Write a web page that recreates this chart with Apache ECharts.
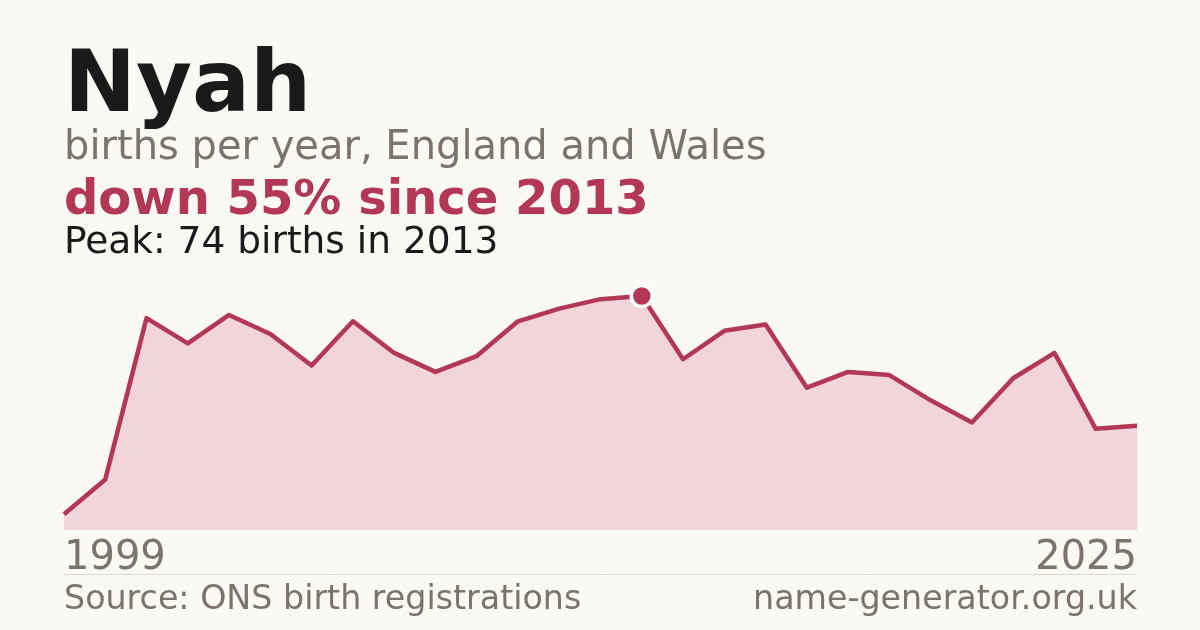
<!DOCTYPE html>
<html>
<head>
<meta charset="utf-8">
<script src="https://cdn.jsdelivr.net/npm/echarts@6/dist/echarts.min.js"></script>
<style>
  html, body { margin: 0; padding: 0; background: #faf9f4; }
  #chart { width: 1200px; height: 630px; }
</style>
</head>
<body>
<div id="chart"></div>
<script>
// births per year for "Nyah"
const years = ['1999','2000','2001','2002','2003','2004','2005','2006','2007','2008',
  '2009','2010','2011','2012','2013','2014','2015','2016','2017','2018',
  '2019','2020','2021','2022','2023','2024','2025'];
const births = [5, 16, 67, 59, 68, 62, 52, 66, 56, 50,
  55, 66, 70, 73, 74, 54, 63, 65, 45, 50,
  49, 41, 34, 48, 56, 32, 33];
const peakYear = '2013';
const peakValue = 74;

const RED = '#b23856';
const GREY = '#7a746c';
const FONT = '"DejaVu Sans", sans-serif';

const chart = echarts.init(document.getElementById('chart'), null, { renderer: 'canvas' });

const txt = (x, y, text, size, color, weight, align) => ({
  type: 'text', x: x, y: y,
  style: {
    text: text, fontSize: size, fontFamily: FONT, fontWeight: weight || 'normal',
    fill: color, align: align || 'left', verticalAlign: 'top', lineHeight: size
  }
});

chart.setOption({
  backgroundColor: '#faf9f4',
  animation: false,
  grid: { left: 64, right: 63, top: 296, bottom: 100 },
  xAxis: {
    type: 'category',
    data: years,
    boundaryGap: false,
    axisLine: { show: false },
    axisTick: { show: false },
    axisLabel: {
      interval: (i) => i === 0 || i === years.length - 1,
      alignMinLabel: 'left',
      alignMaxLabel: 'right',
      margin: 9,
      fontSize: 40,
      fontFamily: FONT,
      color: GREY
    }
  },
  yAxis: {
    type: 'value', min: 0, max: peakValue,
    show: false,
    splitLine: { show: false }
  },
  series: [{
    type: 'line',
    data: births,
    symbol: 'none',
    lineStyle: { color: RED, width: 4.5, join: 'round' },
    areaStyle: { color: '#f1d5da', opacity: 1 },
    markPoint: {
      symbol: 'circle',
      symbolSize: 21,
      itemStyle: { color: RED, borderColor: '#ffffff', borderWidth: 3.5 },
      label: { show: false },
      data: [{ coord: [peakYear, peakValue] }]
    }
  }],
  graphic: [
    txt(64, 46, 'Nyah', 86, '#1a1a1a', 'bold'),
    txt(64, 129, 'births per year, England and Wales', 40, GREY),
    txt(64, 178, 'down 55% since 2013', 48, RED, 'bold'),
    txt(64, 225, 'Peak: 74 births in 2013', 37.5, '#1a1a1a'),
    {
      type: 'line',
      shape: { x1: 64, y1: 574.5, x2: 1137, y2: 574.5 },
      style: { stroke: '#dcd8d0', lineWidth: 1 }
    },
    txt(64, 584, 'Source: ONS birth registrations', 33.3, GREY),
    txt(1137, 584, 'name-generator.org.uk', 33.3, GREY, 'normal', 'right')
  ]
});
</script>
</body>
</html>
